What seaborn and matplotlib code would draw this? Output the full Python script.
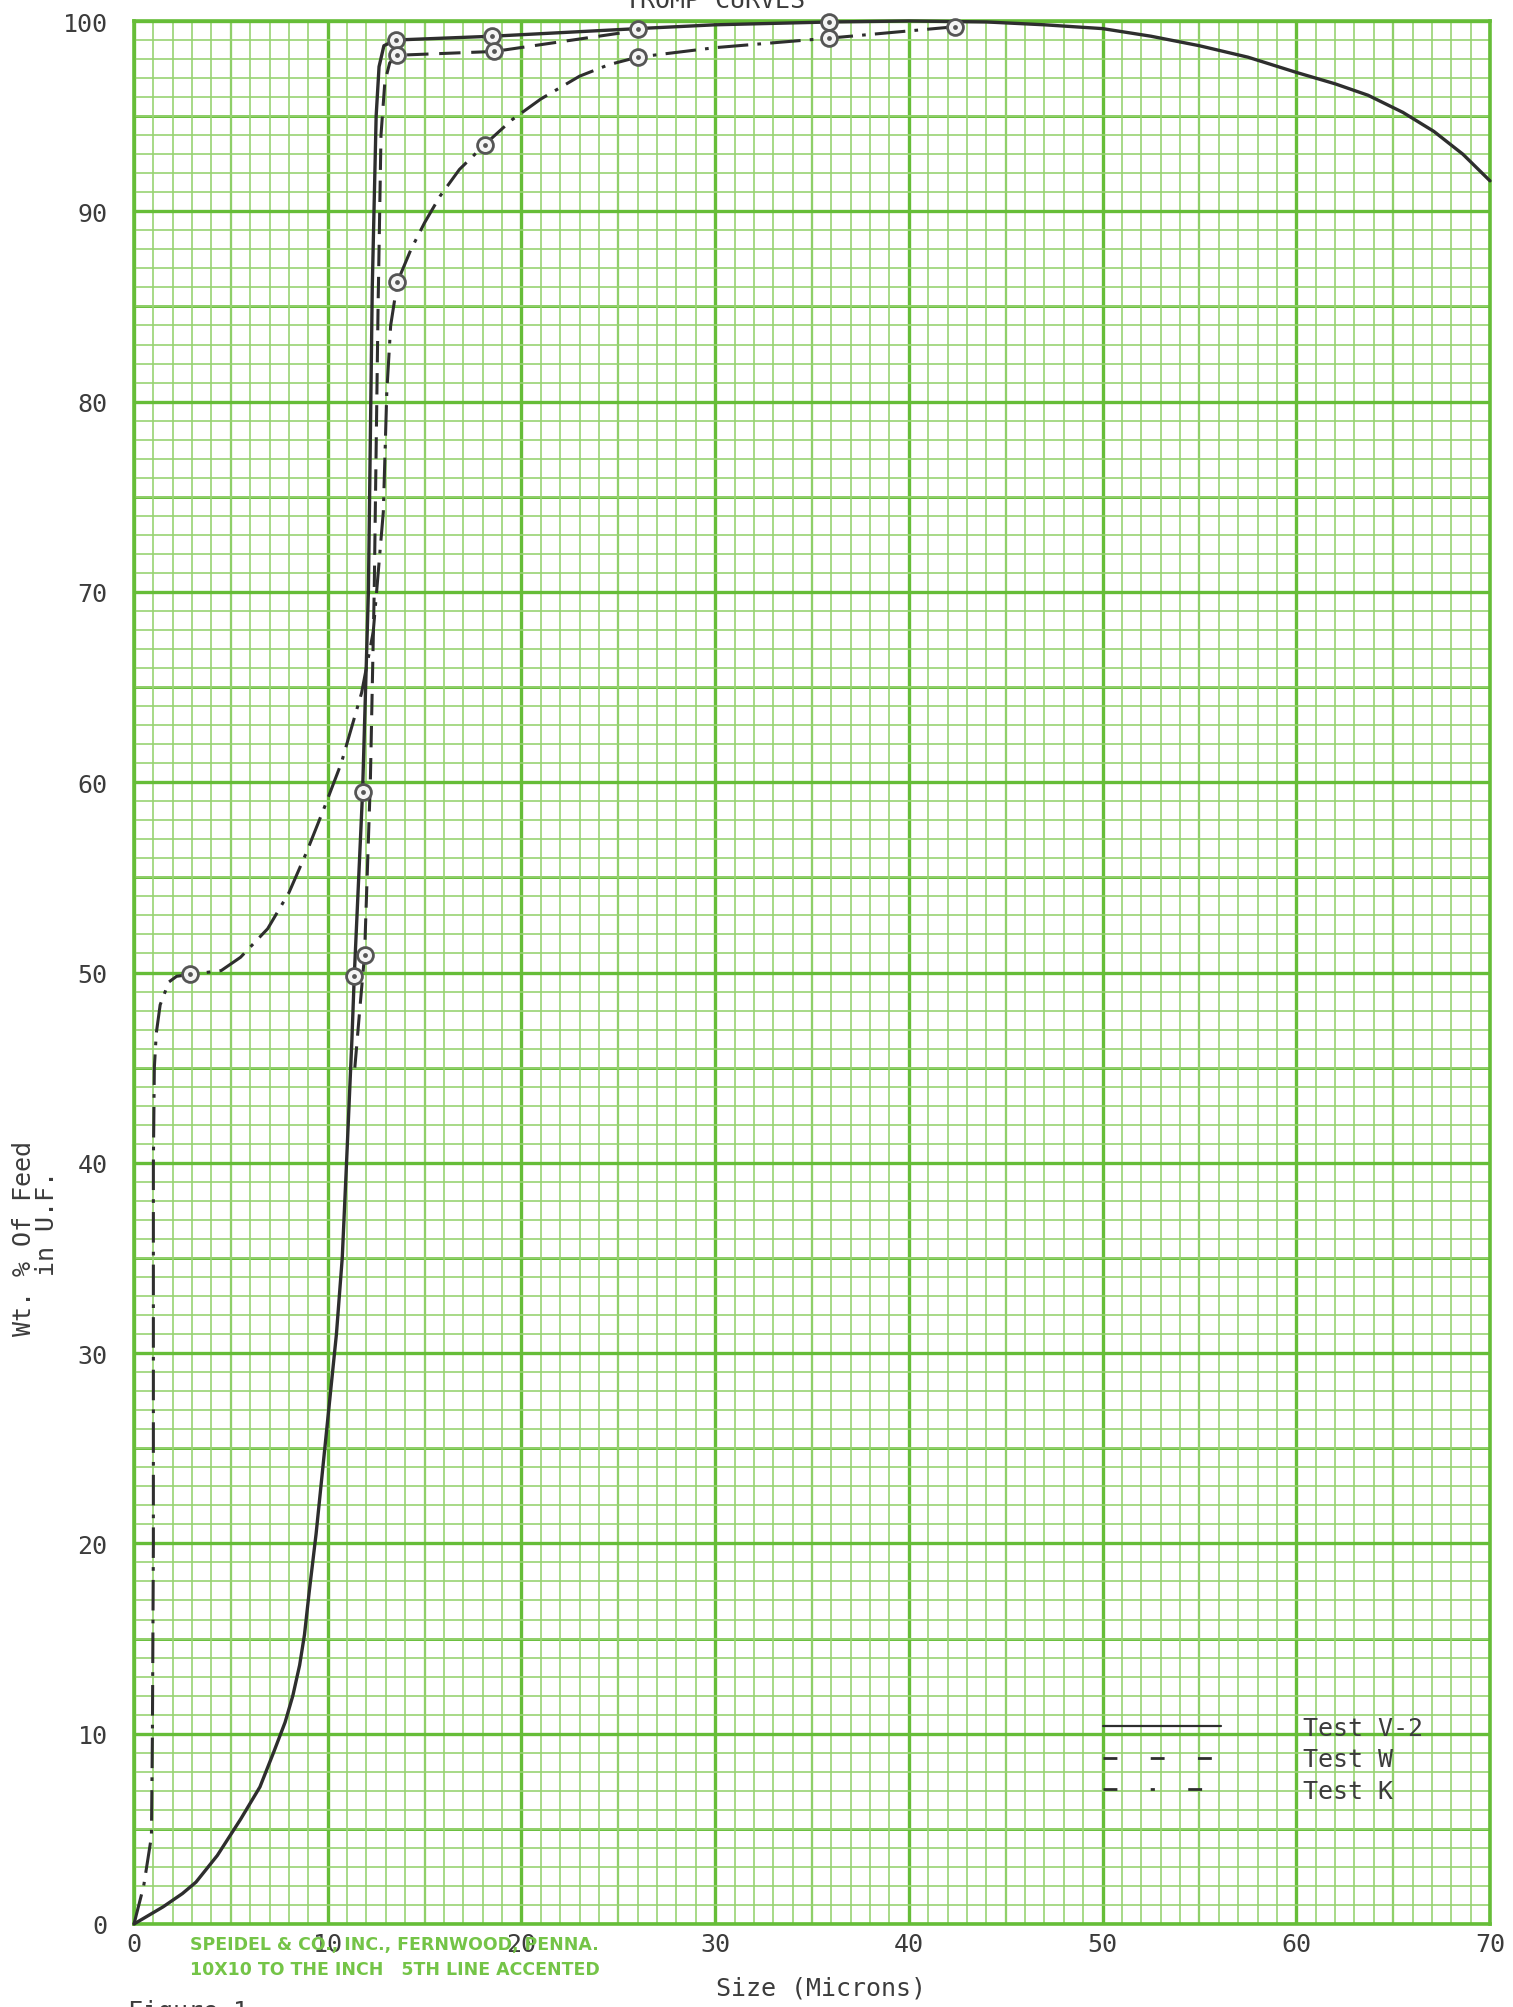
import matplotlib
matplotlib.use("Agg")
import matplotlib.pyplot as plt
from matplotlib.lines import Line2D
import seaborn as sns
import pandas as pd
import numpy as np

# curve traces (size in microns, wt. %)
v2_x = [0, 1.5, 2.5, 3.2, 4.3, 5.5, 6.5, 7.2, 7.8, 8.2, 8.55, 8.8, 9.05, 9.4, 9.75, 10.1, 10.45, 10.75,
        10.95, 11.1, 11.25, 11.37, 11.8, 12.1, 12.3, 12.5, 12.65, 12.9, 13.5,
        18.5, 26, 30, 36, 40, 44, 47, 50, 52.5, 55, 57.5, 60, 62, 63.7, 65.5, 67.1, 68.6, 70]
v2_y = [0, 0.9, 1.6, 2.2, 3.6, 5.5, 7.2, 9.0, 10.6, 12.0, 13.6, 15.2, 17.5, 20.5, 24.0, 27.5, 31.0, 35.0,
        39.5, 43.0, 46.5, 49.8, 59.5, 70.0, 86.0, 95.0, 97.6, 98.7, 99.0,
        99.2, 99.6, 99.8, 99.95, 100.0, 99.95, 99.8, 99.6, 99.2, 98.7, 98.1, 97.3, 96.7, 96.1, 95.2, 94.2, 93.0, 91.6]

w_x = [11.4, 11.65, 11.9, 12.2, 12.4, 12.6, 12.75, 12.95, 13.2, 13.6, 18.6, 26]
w_y = [45.0, 48.0, 50.9, 60.0, 70.0, 85.0, 94.0, 96.8, 97.8, 98.2, 98.4, 99.5]

k_x = [0, 0.5, 0.9, 0.95, 1.0, 1.0, 1.0, 1.05, 1.15, 1.35, 1.8, 2.2, 2.9, 4.5, 5.5, 6.9, 8.0, 8.9, 9.8,
       10.7, 11.75, 12.35, 12.87, 13.05, 13.25, 13.6, 14.3, 15.0, 15.8, 16.8, 18.1, 19.5, 21.0, 23.0,
       24.5, 26.0, 30.0, 35.9, 42.4]
k_y = [0, 2.0, 4.6, 10.0, 20.0, 30.0, 40.0, 45.0, 46.8, 48.3, 49.5, 49.8, 49.9, 50.1, 50.8, 52.3, 54.2, 56.3, 58.6,
       61.0, 64.7, 67.9, 74.2, 80.5, 84.0, 86.3, 88.0, 89.4, 90.8, 92.2, 93.5, 94.8, 95.9, 97.1,
       97.7, 98.1, 98.6, 99.1, 99.7]

# plotted test points (circled)
v2_pts_x = [11.37, 11.8, 13.5, 18.5, 26, 35.9]
v2_pts_y = [49.8, 59.5, 99.0, 99.2, 99.6, 99.95]
w_pts_x = [11.9, 13.6, 18.6]
w_pts_y = [50.9, 98.2, 98.4]
k_pts_x = [2.9, 13.6, 18.1, 26, 35.9, 42.4]
k_pts_y = [49.9, 86.3, 93.5, 98.1, 99.1, 99.7]

series_names = ["Test V-2", "Test W", "Test K"]
x_ticks = [0, 10, 20, 30, 40, 50, 60, 70]
y_ticks = [0, 10, 20, 30, 40, 50, 60, 70, 80, 90, 100]

sns.set_style("white")
plt.rcParams["font.family"] = ["DejaVu Sans Mono", "DejaVu Sans"]

ink = "#2e2e2e"
text_c = "#3c3c3c"
minor_c = "#98d373"
accent_c = "#66bd38"

fig = plt.figure(figsize=(15.13, 20.08), dpi=100)
fig.patch.set_facecolor("white")
ax = fig.add_axes([134 / 1513, 83 / 2008, 1356 / 1513, 1903 / 2008])

ax.set_xlim(0, 70)
ax.set_ylim(0, 100)
ax.set_xticks(x_ticks)
ax.set_xticks(np.arange(0, 71, 1), minor=True)
ax.set_yticks(y_ticks)
ax.set_yticks(np.arange(0, 101, 1), minor=True)
ax.grid(which="minor", color=minor_c, lw=1.2, zorder=0)
ax.grid(which="major", color=accent_c, lw=2.4, zorder=0)
for v in np.arange(5, 70, 10):
    ax.axvline(v, color=accent_c, lw=1.6, zorder=0.5)
for h in np.arange(5, 100, 10):
    ax.axhline(h, color=accent_c, lw=2.1, zorder=0.5)
ax.set_axisbelow(True)
for s in ax.spines.values():
    s.set_color(accent_c)
    s.set_linewidth(2.6)

ax.tick_params(which="both", length=0)
ax.tick_params(axis="y", pad=19, labelsize=18, labelcolor=text_c)
ax.tick_params(axis="x", pad=6, labelsize=18, labelcolor=text_c)

curves = pd.concat([
    pd.DataFrame({"x": v2_x, "y": v2_y, "test": series_names[0]}),
    pd.DataFrame({"x": w_x, "y": w_y, "test": series_names[1]}),
    pd.DataFrame({"x": k_x, "y": k_y, "test": series_names[2]}),
])
styles = {
    series_names[0]: dict(linestyle="-", lw=2.4),
    series_names[1]: dict(linestyle=(0, (7, 3.5)), lw=2.2),
    series_names[2]: dict(linestyle=(0, (10, 3, 1.2, 3)), lw=2.2),
}
for name in series_names:
    sub = curves[curves["test"] == name]
    sns.lineplot(data=sub, x="x", y="y", sort=False, estimator=None, color=ink,
                 ax=ax, zorder=3, clip_on=False, **styles[name])

pts = pd.DataFrame({
    "x": v2_pts_x + w_pts_x + k_pts_x,
    "y": v2_pts_y + w_pts_y + k_pts_y,
})
sns.scatterplot(data=pts, x="x", y="y", marker="o", s=130, facecolor="#f4f4f4",
                edgecolor="#555555", linewidth=2.0, ax=ax, zorder=4, clip_on=False)
sns.scatterplot(data=pts, x="x", y="y", marker="o", s=12, color="#555555",
                linewidth=0, ax=ax, zorder=5, clip_on=False)

ax.set_xlabel("Size (Microns)", fontsize=18, color=text_c)
ax.xaxis.set_label_coords(0.507, -0.0273)
ax.set_ylabel("Wt. % Of Feed\n    in U.F.", fontsize=18, color=text_c,
              multialignment="left", linespacing=0.95)
ax.yaxis.set_label_coords(-0.055, 0.361)

handles = [
    Line2D([], [], color=ink, lw=1.6, linestyle="-"),
    Line2D([], [], color=ink, lw=2.0, linestyle=(0, (5, 12))),
    Line2D([], [], color=ink, lw=2.0, linestyle=(0, (5, 12, 1.5, 12))),
]
leg = ax.legend(handles, series_names, loc="upper left", bbox_to_anchor=(1103 / 1513, 1 - 1717 / 2008),
                bbox_transform=fig.transFigure, frameon=False, fontsize=18, handlelength=4.7,
                handletextpad=3.3, labelspacing=0.3, borderpad=0, borderaxespad=0)
for t in leg.get_texts():
    t.set_color(text_c)

fig.text(715 / 1513, 1 - 8 / 2008, "TROMP CURVES", fontsize=18, color=text_c, ha="center", va="baseline")
fig.text(190 / 1513, 1 - 1945 / 2008, "SPEIDEL & CO., INC., FERNWOOD, PENNA.", fontsize=12.5,
         color="#74c447", fontweight="bold", ha="left", va="center", family="DejaVu Sans", zorder=0)
fig.text(190 / 1513, 1 - 1970 / 2008, "10X10 TO THE INCH   5TH LINE ACCENTED", fontsize=12.5,
         color="#74c447", fontweight="bold", ha="left", va="center", family="DejaVu Sans", zorder=0)
fig.text(128 / 1513, 1 - 2000 / 2008, "Figure 1", fontsize=18, color=text_c, ha="left", va="top")

fig.savefig("out.png", dpi=100, facecolor="white")
